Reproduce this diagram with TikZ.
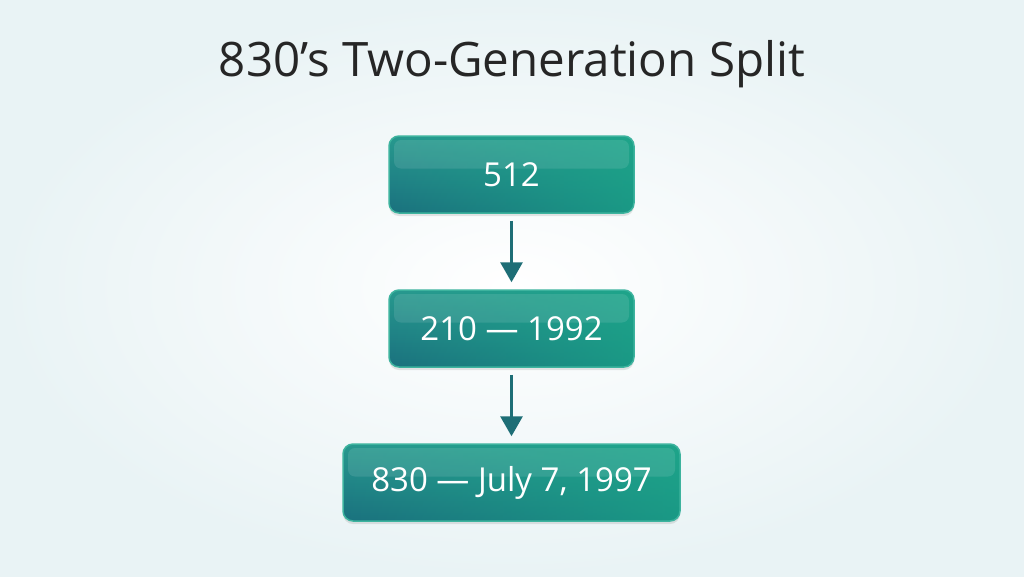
\documentclass[tikz,border=0pt]{standalone}
\usepackage{fontspec}
\setmainfont{Open Sans}
\usepackage{xcolor}
\usetikzlibrary{calc, shadows, arrows.meta, fadings}
\definecolor{tealtop}{HTML}{28998F}
\definecolor{tealbottom}{HTML}{1B717E}
\definecolor{tealgreen}{HTML}{1AAA88}
\definecolor{tealedge}{HTML}{3DB39E}
\definecolor{arrowteal}{HTML}{1E6E76}
\definecolor{bgouter}{HTML}{E9F3F5}
\definecolor{titlegray}{HTML}{262626}
\tikzstyle{yearbox} = [rectangle, rounded corners=10pt, minimum width=245pt, minimum height=77pt, text centered, draw=tealedge, line width=1.5pt, top color=tealtop, bottom color=tealbottom, text=white, font=\fontsize{33}{38}\selectfont, drop shadow={shadow xshift=0pt, shadow yshift=-3pt, opacity=0.2},
  path picture={
    \fill[tealgreen, path fading=west, opacity=0.7] (path picture bounding box.south west) rectangle (path picture bounding box.north east);
    \fill[white, opacity=0.1, rounded corners=7pt] ($(path picture bounding box.north west)+(5pt,-4pt)$) rectangle ($(path picture bounding box.east)+(-5pt,6pt)$);}]
\tikzstyle{arrow}   = [line width=3pt, draw=arrowteal, -{Triangle[width=22pt,length=20pt]}, shorten <=7pt, shorten >=7pt]

\begin{document}
\begin{tikzpicture}[x=1pt, y=-1pt, node distance=154pt]
    \shade[inner color=white, outer color=bgouter] (0,0) rectangle (1024,576);
    \useasboundingbox (0,0) rectangle (1024,576);

    \node (title) [text=titlegray, font=\fontsize{47.5}{54}\selectfont] at (512,64) {830’s Two-Generation Split};
    \node (n512)  [yearbox] at (511.5,174.5) {512};
    \node (n210)  [yearbox, below of=n512] {210 — 1992};
    \node (n830)  [yearbox, below of=n210, minimum width=337pt] {830 — July 7, 1997};

    % arrows
    \draw [arrow] (n512) -- (n210);
    \draw [arrow] (n210) -- (n830);
\end{tikzpicture}
\end{document}
